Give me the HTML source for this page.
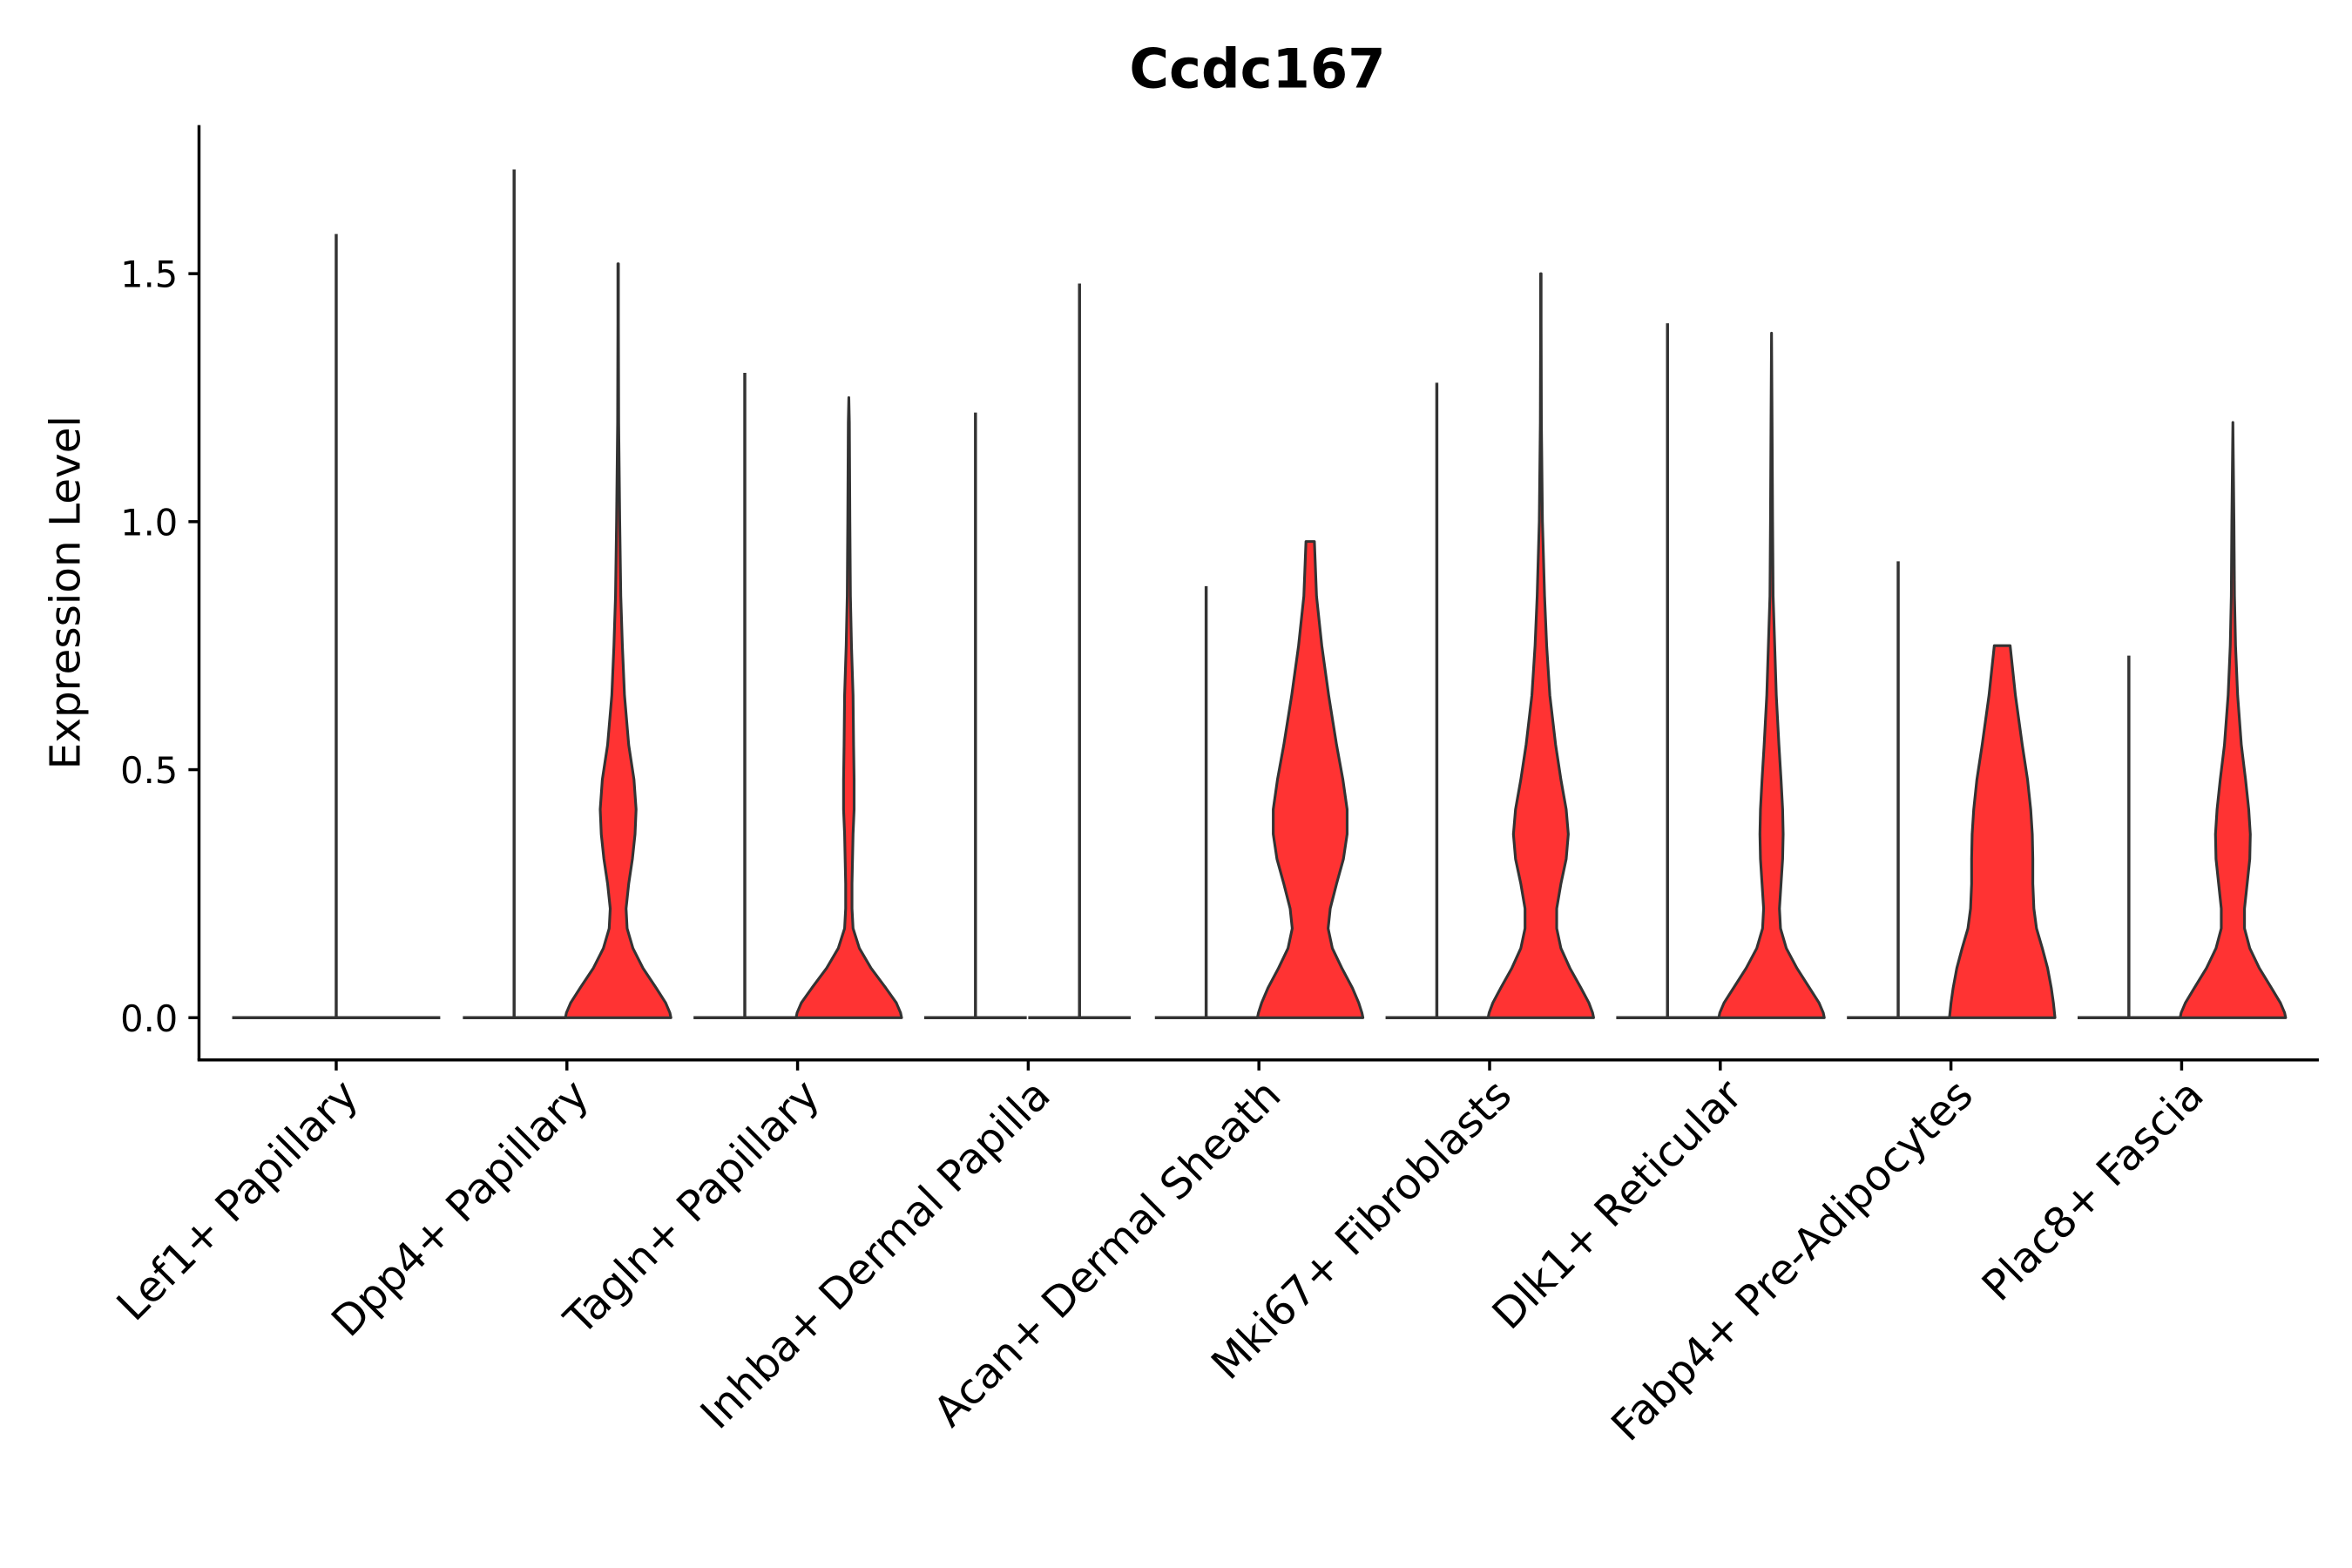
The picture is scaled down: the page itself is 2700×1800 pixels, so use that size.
<!DOCTYPE html>
<html><head><meta charset="utf-8"><style>
html,body{margin:0;padding:0;background:#fff;}
svg{display:block;}
text{font-family:"DejaVu Sans","Liberation Sans",sans-serif;fill:#000;}
</style></head><body>
<svg id="chart" width="2700" height="1800" viewBox="0 0 1560 1040" xmlns="http://www.w3.org/2000/svg">
<text x="834" y="58" text-anchor="middle" font-size="36" font-weight="bold">Ccdc167</text>
<text transform="translate(53,393) rotate(-90)" text-anchor="middle" font-size="28">Expression Level</text>
<g id="plot"></g>
</svg>
<script>
const categories = ["Lef1+ Papillary","Dpp4+ Papillary","Tagln+ Papillary","Inhba+ Dermal Papilla","Acan+ Dermal Sheath","Mki67+ Fibroblasts","Dlk1+ Reticular","Fabp4+ Pre-Adipocytes","Plac8+ Fascia"];
const leftMax = [1.58,1.71,1.30,1.22,0.87,1.28,1.40,0.92,0.73];
const rightMax = [null,1.52,1.25,1.48,0.96,1.50,1.38,0.75,1.20];
const yTicks = [0,0.5,1.0,1.5];
const yTickLabels = ["0.0","0.5","1.0","1.5"];
const levels = [0,0.01,0.03,0.06,0.1,0.14,0.18,0.22,0.27,0.32,0.37,0.42,0.48,0.55,0.65,0.75,0.85,1.0,1.2,1.4];
const rightWidths = [
 null,
 [1,0.98,0.9,0.72,0.47,0.28,0.17,0.15,0.2,0.27,0.32,0.34,0.3,0.2,0.12,0.08,0.05,0.03,0.01,0.005],
 [1,0.98,0.9,0.7,0.42,0.2,0.08,0.06,0.06,0.07,0.08,0.1,0.1,0.09,0.08,0.05,0.03,0.02,0.01,0],
 "flat",
 [1,0.98,0.92,0.8,0.6,0.42,0.34,0.38,0.5,0.63,0.7,0.7,0.62,0.5,0.35,0.22,0.12,0.08,0.08,0.08],
 [1,0.98,0.91,0.76,0.55,0.38,0.3,0.3,0.38,0.48,0.52,0.48,0.38,0.28,0.17,0.11,0.07,0.03,0.01,0.005],
 [1,0.98,0.9,0.72,0.48,0.28,0.17,0.15,0.18,0.21,0.22,0.21,0.18,0.14,0.09,0.06,0.03,0.02,0.01,0],
 [1,0.99,0.97,0.93,0.86,0.76,0.65,0.6,0.58,0.58,0.57,0.54,0.48,0.38,0.25,0.15,0.15,0.15,0.15,0.15],
 [1,0.98,0.9,0.73,0.5,0.32,0.22,0.22,0.27,0.32,0.33,0.3,0.24,0.16,0.09,0.05,0.03,0.02,0.005,0]
];
const NS="http://www.w3.org/2000/svg";
const g=document.getElementById('plot');
const y0=675, unit=329, x0=223, step=153, half=35;
const yScale=v=>y0-unit*v;
const xScale=i=>x0+step*i;
function mk(tag,attrs){const e=document.createElementNS(NS,tag);for(const k in attrs)e.setAttribute(k,attrs[k]);g.appendChild(e);return e;}
let a=mk('line',{x1:132,y1:83,x2:132,y2:703,stroke:'#000','stroke-width':2});


a=mk('line',{x1:131,y1:703,x2:1538,y2:703,stroke:'#000','stroke-width':2});


yTicks.forEach((v,i)=>{
 const t=mk('line',{x1:125,x2:132,y1:yScale(v),y2:yScale(v),stroke:'#000','stroke-width':2});
 
 
 const l=mk('text',{x:118,y:yScale(v)+9,'text-anchor':'end','font-size':24});
 l.textContent=yTickLabels[i];
 
 
});
function flat(cx,hw,max,name){
 const p=mk('path',{d:`M${cx-hw},${y0}L${cx+hw},${y0}M${cx},${y0}L${cx},${yScale(max)}`,stroke:'#333','stroke-width':2,fill:'none'});
 
 
}
categories.forEach((c,i)=>{
 const cx=xScale(i);
 const t=mk('line',{x1:cx,x2:cx,y1:703,y2:710,stroke:'#000','stroke-width':2});
 
 
 const l=mk('text',{transform:`translate(${cx+16},${728}) rotate(-45)`,'text-anchor':'end','font-size':28});
 l.textContent=c;
 
 
 if(rightMax[i]===null){flat(cx,69,leftMax[i],'violin-left');return;}
 flat(cx-35,34,leftMax[i],'violin-left');
 const rx=cx+34, mx=rightMax[i], w=rightWidths[i];
 if(w==="flat"){flat(rx,34,mx,'violin-right');return;}
 const pts=[];
 for(let k=0;k<levels.length&&levels[k]<mx;k++)pts.push([levels[k],w[k]]);
 const topW=pts.length?Math.min(pts[pts.length-1][1],w[w.length-1]):0;
 pts.push([mx,topW]);
 let d=`M${rx},${y0}`;
 pts.forEach(p=>d+=`L${rx+half*p[1]},${yScale(p[0])}`);
 for(let k=pts.length-1;k>=0;k--)d+=`L${rx-half*pts[k][1]},${yScale(pts[k][0])}`;
 d+='Z';
 const p=mk('path',{d,fill:'#ff3333',stroke:'#333','stroke-width':1.8,'stroke-linejoin':'round'});
 
 
});
</script>
</body></html>
